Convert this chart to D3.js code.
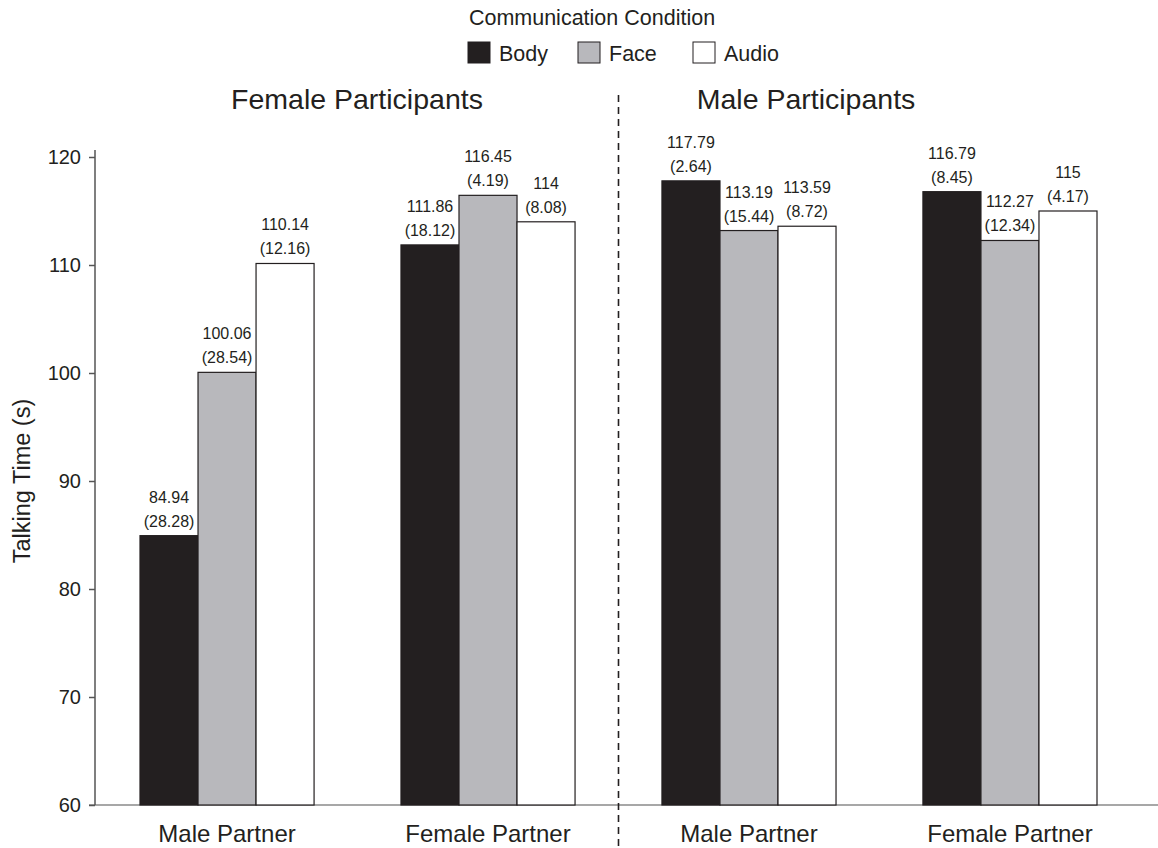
<!DOCTYPE html>
<html>
<head>
<meta charset="utf-8">
<script src="https://cdn.jsdelivr.net/npm/d3@7/dist/d3.min.js"></script>
<style>
  html, body { margin: 0; padding: 0; background: #fff; }
  svg { display: block; font-family: "Liberation Sans", Arial, Helvetica, sans-serif; }
</style>
</head>
<body>
<svg id="chart" width="1158" height="848"></svg>
<script>
// Talking time by participant gender, partner gender and communication condition
const panels = ["Female Participants", "Male Participants"];
const partners = ["Male Partner", "Female Partner"];
const conditions = ["Body", "Face", "Audio"];
const groupLabels = ["Female Participants|Male Partner", "Female Participants|Female Partner",
                     "Male Participants|Male Partner", "Male Participants|Female Partner"];
const bodyMeans  = [84.94, 111.86, 117.79, 116.79];
const bodySDs    = [28.28, 18.12, 2.64, 8.45];
const faceMeans  = [100.06, 116.45, 113.19, 112.27];
const faceSDs    = [28.54, 4.19, 15.44, 12.34];
const audioMeans = [110.14, 114, 113.59, 115];
const audioSDs   = [12.16, 8.08, 8.72, 4.17];
const yTicks = [60, 70, 80, 90, 100, 110, 120];

const colors = { Body: "#231f20", Face: "#b8b8bc", Audio: "#ffffff" };
const ink = "#231f20";

const svg = d3.select("#chart");

const y = d3.scaleLinear().domain([60, 120]).range([805, 157]);
const x0 = d3.scaleBand().domain(groupLabels).range([96, 1141])
  .paddingInner(0.333).paddingOuter(0.1686);
const x1 = d3.scaleBand().domain(conditions).range([0, x0.bandwidth()]);

const series = conditions.map((c, i) => {
  const means = [bodyMeans, faceMeans, audioMeans][i];
  const sds = [bodySDs, faceSDs, audioSDs][i];
  return groupLabels.map((g, j) => ({ cond: c, group: g, mean: means[j], sd: sds[j] }));
});

// legend
svg.append("text").attr("x", 592).attr("y", 25).attr("text-anchor", "middle")
  .attr("font-size", 21.5).attr("fill", ink).text("Communication Condition");
const legendX = [468, 578, 693];
const legend = svg.selectAll("g.legend").data(conditions).join("g")
  .attr("class", "legend").attr("transform", (d, i) => `translate(${legendX[i]},42)`);
legend.append("rect").attr("width", 22).attr("height", 21)
  .attr("fill", d => colors[d]).attr("stroke", ink).attr("stroke-width", 1);
legend.append("text").attr("x", 31).attr("y", 19).attr("font-size", 21.5)
  .attr("fill", ink).text(d => d);

// panel titles
const titleX = [357, 806];
svg.selectAll("text.panel").data(panels).join("text").attr("class", "panel")
  .attr("x", (d, i) => titleX[i]).attr("y", 109).attr("text-anchor", "middle")
  .attr("font-size", 28.5).attr("fill", ink).text(d => d);

// baseline
svg.append("line").attr("x1", 89).attr("x2", 1158).attr("y1", y(60)).attr("y2", y(60))
  .attr("stroke", "#8a8a8a").attr("stroke-width", 1.5);

// y axis
const yAxis = svg.append("g").attr("transform", "translate(95,0)")
  .call(d3.axisLeft(y).tickValues(yTicks).tickSize(6).tickSizeOuter(0).tickPadding(8));
yAxis.select(".domain").attr("d", `M0,${y(60)}V150`).attr("stroke", "#555").attr("stroke-width", 1.5);
yAxis.selectAll(".tick line").attr("stroke", "#555").attr("stroke-width", 1.5);
yAxis.selectAll(".tick text").attr("font-size", 20).attr("fill", ink)
  .attr("font-family", "Liberation Sans, Arial, sans-serif");

svg.append("text").attr("transform", `translate(30,481) rotate(-90)`)
  .attr("text-anchor", "middle").attr("font-size", 23.5).attr("fill", ink)
  .text("Talking Time (s)");

// bars
const barGroups = svg.selectAll("g.series").data(series).join("g").attr("class", "series");
barGroups.selectAll("rect").data(d => d).join("rect")
  .attr("x", d => x0(d.group) + x1(d.cond))
  .attr("y", d => y(d.mean))
  .attr("width", x1.bandwidth())
  .attr("height", d => y(60) - y(d.mean))
  .attr("fill", d => colors[d.cond])
  .attr("stroke", ink).attr("stroke-width", 1.2);

// value labels: mean and (SD)
const labels = svg.selectAll("g.vlabel").data(series.flat()).join("g").attr("class", "vlabel")
  .attr("transform", d => `translate(${x0(d.group) + x1(d.cond) + x1.bandwidth() / 2},${y(d.mean)})`);
labels.append("text").attr("y", -33).attr("text-anchor", "middle").attr("font-size", 16)
  .attr("fill", ink).text(d => d.mean);
labels.append("text").attr("y", -9).attr("text-anchor", "middle").attr("font-size", 16)
  .attr("fill", ink).text(d => `(${d.sd})`);

// partner labels
svg.selectAll("text.partner").data(groupLabels).join("text").attr("class", "partner")
  .attr("x", d => x0(d) + x0.bandwidth() / 2).attr("y", 842).attr("text-anchor", "middle")
  .attr("font-size", 24).attr("fill", ink).text(d => d.split("|")[1]);

// divider between participant panels
const divX = (x0(groupLabels[1]) + x0.bandwidth() + x0(groupLabels[2])) / 2;
svg.append("line").attr("x1", divX).attr("x2", divX).attr("y1", 95).attr("y2", 848)
  .attr("stroke", ink).attr("stroke-width", 1.6).attr("stroke-dasharray", "7,5");
</script>
</body>
</html>
